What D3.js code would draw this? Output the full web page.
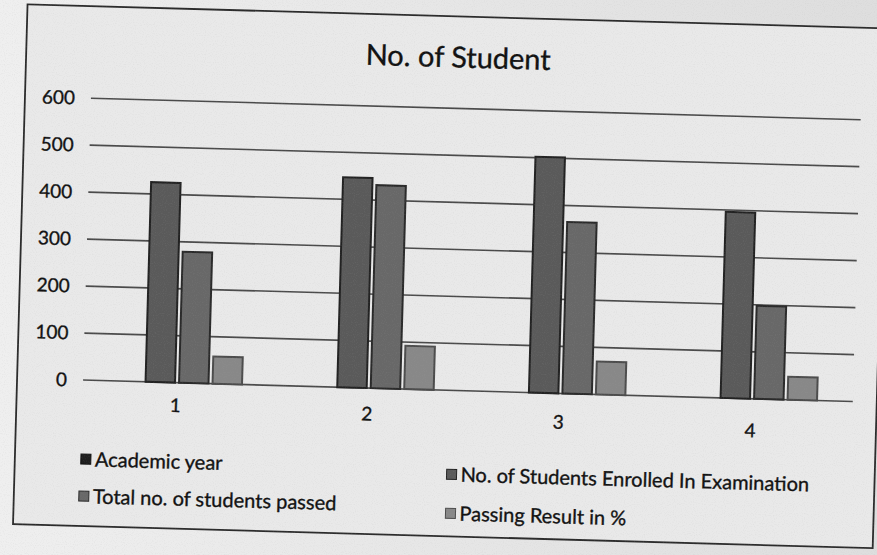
<!DOCTYPE html>
<html>
<head>
<meta charset="utf-8">
<script src="https://cdn.jsdelivr.net/npm/d3@7"></script>
<style>
  html, body { margin: 0; padding: 0; background: #ececec; }
  svg { display: block; }
  text { font-family: Lato, "Open Sans", sans-serif; fill: #111; stroke: #111; stroke-width: 0.35px; }
</style>
</head>
<body>
<div id="chart"></div>
<script>
// data
let years = [1, 2, 3, 4];
let seriesNames = ["Academic year", "No. of Students Enrolled In Examination",
                   "Total no. of students passed", "Passing Result in  %"];
let academicYear = [0, 0, 0, 0];
let enrolled = [425, 447, 502, 396];
let passed = [279, 432, 365, 198];
let passPct = [58, 92, 70, 49];
let yTicks = [0, 100, 200, 300, 400, 500, 600];

let width = 877, height = 555;
let fills = ["#1e1e1e", "#5a5a5a", "#686868", "#888888"];
let strokes = ["#111", "#222", "#2a2a2a", "#4c4c4c"];

let svg = d3.select("#chart")
  .append("svg")
  .attr("width", width)
  .attr("height", height);

// paper shading
let defs = svg.append("defs");
let grad = defs.append("linearGradient").attr("id", "paper")
  .attr("x1", "0").attr("x2", "1").attr("y1", "0").attr("y2", "0");
grad.append("stop").attr("offset", "0").attr("stop-color", "#efefef");
grad.append("stop").attr("offset", "1").attr("stop-color", "#dedede");
let noise = defs.append("filter").attr("id", "grain");
noise.append("feTurbulence").attr("type", "fractalNoise")
  .attr("baseFrequency", 0.9).attr("numOctaves", 1).attr("seed", 3);
noise.append("feColorMatrix").attr("type", "matrix")
  .attr("values", "0 0 0 0 0.4  0 0 0 0 0.4  0 0 0 0 0.4  0 0 0 -1.1 0.55");
noise.append("feComposite").attr("in2", "SourceGraphic").attr("operator", "in");

svg.append("rect").attr("width", width).attr("height", height).attr("fill", "url(#paper)");

// whole photo is slightly turned
let g = svg.append("g").attr("transform", "rotate(1.6, 440, 280)");

// chart border
g.append("rect")
  .attr("x", 20).attr("y", 16)
  .attr("width", 860).attr("height", 520)
  .attr("fill", "#e9e9e9")
  .attr("stroke", "#2b2b2b")
  .attr("stroke-width", 1.8);

g.append("text")
  .attr("x", 452).attr("y", 67)
  .attr("text-anchor", "middle")
  .style("font-size", "29px")
  .text("No. of Student");

let x0 = d3.scaleBand().domain(years).range([83, 850]).padding(0);
let x1 = d3.scaleBand().domain(d3.range(4)).range([32, 162]).paddingInner(0.12);
let y = d3.scaleLinear().domain([0, 600]).range([390, 108]);

// gridlines
g.append("g")
  .selectAll("line")
  .data(yTicks)
  .enter()
  .append("line")
  .attr("x1", 86).attr("x2", 856)
  .attr("y1", d => y(d)).attr("y2", d => y(d))
  .attr("stroke", "#4a4a4a")
  .attr("stroke-width", 1.6);

// y axis labels
let yAxis = d3.axisLeft(y).tickValues(yTicks).tickSize(0).tickPadding(0);
g.append("g")
  .attr("transform", "translate(70,0)")
  .call(yAxis)
  .call(a => a.select(".domain").remove())
  .selectAll("text")
  .style("font-size", "19px")
  .style("font-family", "Lato, sans-serif")
  .attr("fill", "#111");

// x axis labels (lower part of the photo leans a bit more)
let xAxis = d3.axisBottom(x0).tickSize(0).tickPadding(0);
g.append("g")
  .attr("transform", "rotate(0.9, 440, 412) translate(0,410)")
  .call(xAxis)
  .call(a => a.select(".domain").remove())
  .selectAll("text")
  .style("font-size", "19px")
  .style("font-family", "Lato, sans-serif")
  .attr("fill", "#111");

let allSeries = [academicYear, enrolled, passed, passPct];
let rows = years.map((yr, i) => ({year: yr, vals: allSeries.map(s => s[i])}));

let groups = g.append("g")
  .selectAll("g")
  .data(rows)
  .enter()
  .append("g")
  .attr("transform", d => `translate(${x0(d.year)},0)`);

groups.selectAll("rect")
  .data(d => d.vals.map((v, k) => ({k: k, v: v})))
  .enter()
  .append("rect")
  .attr("x", d => x1(d.k))
  .attr("width", x1.bandwidth())
  .attr("y", d => y(d.v))
  .attr("height", d => y(0) - y(d.v))
  .attr("fill", d => fills[d.k])
  .attr("stroke", d => d.v > 0 ? strokes[d.k] : "none")
  .attr("stroke-width", 2);

// legend, two columns
let legendPos = [[91, 469], [457, 474], [90, 506], [457, 513]];
let legend = g.append("g")
  .selectAll("g")
  .data(seriesNames)
  .enter()
  .append("g")
  .attr("transform", (d, i) => `translate(${legendPos[i][0]},${legendPos[i][1]})`);

legend.append("rect")
  .attr("x", -5).attr("y", -5)
  .attr("width", 10).attr("height", 10)
  .attr("fill", (d, i) => fills[i])
  .attr("stroke", (d, i) => strokes[i]);

legend.append("text")
  .attr("x", 9).attr("y", 7)
  .style("font-size", "20px")
  .text(d => d);

// grain over everything
svg.append("rect").attr("width", width).attr("height", height)
  .attr("fill", "#888").attr("filter", "url(#grain)").attr("opacity", 0.35);
</script>
</body>
</html>
